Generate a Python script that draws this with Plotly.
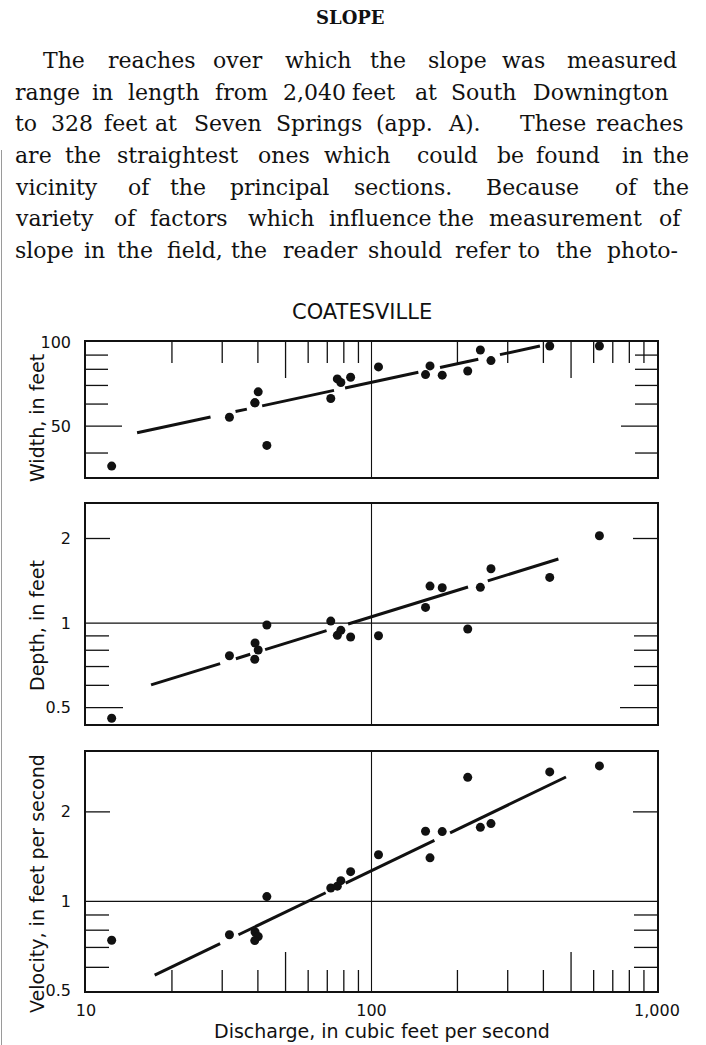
import numpy as np
import plotly.graph_objects as go

# ---------------- data ----------------
discharge = [12.3, 31.8, 39.1, 40.1, 39.0, 43.0, 72.0, 75.9, 78.1, 84.5,
             105.8, 154.6, 160.3, 176.9, 217.3, 240.6, 262.1, 421.0, 628.5]
width_ft = [35.9, 53.8, 60.6, 66.4, 60.6, 42.6, 62.8, 73.9, 71.7, 74.9,
            81.6, 76.6, 82.3, 76.2, 78.9, 93.9, 86.0, 97.0, 97.0]
depth_ft = [0.458, 0.765, 0.849, 0.802, 0.743, 0.984, 1.016, 0.904, 0.942, 0.892,
            0.901, 1.137, 1.354, 1.335, 0.952, 1.340, 1.561, 1.454, 2.045]
velocity_fps = [0.740, 0.772, 0.789, 0.762, 0.738, 1.038, 1.109, 1.125, 1.174, 1.259,
                1.435, 1.722, 1.401, 1.717, 2.614, 1.774, 1.827, 2.726, 2.855]

# fitted lines: end points (discharge, value) and the discharge intervals where the drawn line is interrupted
width_fit_q = [15.1, 389.0]
width_fit_v = [47.3, 97.0]
width_fit_gaps = [(27.3, 33.4), (36.6, 41.4), (73.9, 80.8), (145.9, 173.8), (236.6, 281.8)]
depth_fit_q = [16.9, 451.5]
depth_fit_v = [0.602, 1.690]
depth_fit_gaps = [(29.5, 33.5), (37.6, 42.4), (69.6, 82.8), (217.8, 255.4)]
vel_fit_q = [17.4, 480.0]
vel_fit_v = [0.565, 2.62]
vel_fit_gaps = [(29.5, 34.2), (69.1, 81.2), (166.1, 188.5)]

# tick labels
x_tickvals = [10, 100, 1000]
x_ticktext = ["10", "100", "1,000"]
w_tickvals = [50, 100]
w_ticktext = ["50", "100"]
d_tickvals = [0.5, 1, 2]
d_ticktext = ["0.5", "1", "2"]
v_tickvals = [0.5, 1, 2]
v_ticktext = ["0.5", "1", "2"]

title_text = "COATESVILLE"
heading_text = "SLOPE"
paragraph_lines = [
    "The reaches over which the slope was measured",
    "range in length from 2,040 feet at South Downington",
    "to 328 feet at Seven Springs (app. A).  These reaches",
    "are the straightest ones which could be found in the",
    "vicinity of the principal sections.  Because of the",
    "variety of factors which influence the measurement of",
    "slope in the field, the reader should refer to the photo-",
]

# ---------------- layout (pixel geometry of the page) ----------------
W, H = 706, 1045
PX_L, PX_R = 86, 657
panels = {  # top, bottom in px
    1: (342, 477),
    2: (504, 724),
    3: (752, 991),
}
# word start positions (px) for the justified paragraph
word_x = [
    [40.8, 105.7, 211, 282.7, 367.8, 426, 500, 565],
    [13, 90, 125.9, 213.3, 280.5, 349.9, 412.6, 448.5, 531.3],
    [13, 48.8, 102.2, 152.8, 192.2, 273.7, 374.5, 446.2, 517.9, 594],
    [13, 63.2, 114.7, 255.8, 321.7, 414.9, 494.6, 533.6, 620, 651.4],
    [13, 125.9, 167.6, 228, 352.1, 484.3, 612.9, 651.4],
    [13, 111.6, 148.3, 246, 326.6, 436, 487, 656.8],
    [13, 82.4, 114.7, 164.9, 229, 280.5, 365.6, 453, 515.7, 553.7, 605.3],
]
LINE0_Y, LINE_DY = 61, 31.5

SANS = "DejaVu Sans"
SERIF = "DejaVu Serif"
INK = "#111111"


def px_x(x):
    return x / W


def px_y(y):
    return 1 - y / H


def broken_line(q, v, gaps):
    lq0, lq1 = np.log10(q)
    lv0, lv1 = np.log10(v)

    def val(qq):
        t = (np.log10(qq) - lq0) / (lq1 - lq0)
        return float(10 ** (lv0 + t * (lv1 - lv0)))

    pts = [q[0]] + [g for pair in gaps for g in pair] + [q[1]]
    xs, ys = [], []
    for a, b in zip(pts[0::2], pts[1::2]):
        xs += [a, b, None]
        ys += [val(a), val(b), None]
    return xs, ys


fig = go.Figure()

series = [
    (1, width_ft, width_fit_q, width_fit_v, width_fit_gaps),
    (2, depth_ft, depth_fit_q, depth_fit_v, depth_fit_gaps),
    (3, velocity_fps, vel_fit_q, vel_fit_v, vel_fit_gaps),
]
for i, vals, fq, fv, gaps in series:
    xa = "x" if i == 1 else f"x{i}"
    ya = "y" if i == 1 else f"y{i}"
    lx, ly = broken_line(fq, fv, gaps)
    fig.add_trace(go.Scatter(x=lx, y=ly, mode="lines", xaxis=xa, yaxis=ya,
                             line=dict(color=INK, width=3), hoverinfo="skip"))
    fig.add_trace(go.Scatter(x=discharge, y=vals, mode="markers", xaxis=xa, yaxis=ya,
                             marker=dict(color=INK, size=9)))

ranges_y = {
    1: [np.log10(32.8), np.log10(100.3)],
    2: [np.log10(0.437), np.log10(2.654)],
    3: [np.log10(0.4995), np.log10(3.18)],
}
ticks_y = {1: (w_tickvals, w_ticktext), 2: (d_tickvals, d_ticktext), 3: (v_tickvals, v_ticktext)}

axis_common = dict(type="log", showline=True, linecolor=INK, linewidth=1.6, mirror=True,
                   showgrid=False, zeroline=False, ticks="", automargin=False)
layout = dict(width=W, height=H, margin=dict(l=0, r=0, t=0, b=0, pad=0, autoexpand=False),
              paper_bgcolor="white", plot_bgcolor="white", showlegend=False)
for i, (top, bot) in panels.items():
    xk = "xaxis" if i == 1 else f"xaxis{i}"
    yk = "yaxis" if i == 1 else f"yaxis{i}"
    ya = "y" if i == 1 else f"y{i}"
    xa = "x" if i == 1 else f"x{i}"
    xdict = dict(axis_common, domain=[px_x(PX_L), px_x(PX_R)], range=[1, 3], anchor=ya)
    if i == 3:
        xdict.update(tickvals=x_tickvals, ticktext=x_ticktext, showticklabels=True,
                     tickfont=dict(family=SANS, size=16, color=INK), ticklabelstandoff=4)
    else:
        xdict.update(showticklabels=False)
    tv, tt = ticks_y[i]
    ydict = dict(axis_common, domain=[px_y(bot), px_y(top)], range=ranges_y[i], anchor=xa,
                 tickvals=tv, ticktext=tt, tickfont=dict(family=SANS, size=16, color=INK),
                 ticklabelstandoff=10)
    layout[xk] = xdict
    layout[yk] = ydict
fig.update_layout(**layout)

# ---- tick marks drawn inside the frames ----
shapes = []
tick_line = dict(color=INK, width=1.3)


def ytick(i, val, length):
    xa = "x" if i == 1 else f"x{i}"
    ya = "y" if i == 1 else f"y{i}"
    f = length / (PX_R - PX_L)
    shapes.append(dict(type="line", xref=f"{xa} domain", yref=ya, x0=0, x1=f, y0=val, y1=val, line=tick_line))
    shapes.append(dict(type="line", xref=f"{xa} domain", yref=ya, x0=1 - f, x1=1, y0=val, y1=val, line=tick_line))


def xtick(i, val, length, side):
    top, bot = panels[i]
    xa = "x" if i == 1 else f"x{i}"
    ya = "y" if i == 1 else f"y{i}"
    f = length / (bot - top)
    y0, y1 = (1, 1 - f) if side == "top" else (0, f)
    shapes.append(dict(type="line", xref=xa, yref=f"{ya} domain", x0=val, x1=val, y0=y0, y1=y1, line=tick_line))


for v in [40, 60, 70, 80, 90]:
    ytick(1, v, 22)
ytick(1, 50, 36)
for v in [0.6, 0.7, 0.8, 0.9]:
    ytick(2, v, 23)
    ytick(3, v, 23)
ytick(2, 2, 24)
ytick(2, 0.5, 37)
ytick(3, 2, 24)
for dec in [10, 100]:
    for m in range(2, 10):
        xtick(1, dec * m, 36 if m == 5 else 21, "top")
        xtick(3, dec * m, 39 if m == 5 else 21, "bottom")

# grid lines at 100 cfs and at 1
for i in (1, 2, 3):
    xa = "x" if i == 1 else f"x{i}"
    ya = "y" if i == 1 else f"y{i}"
    shapes.append(dict(type="line", xref=xa, yref=f"{ya} domain", x0=100, x1=100, y0=0, y1=1,
                       line=dict(color=INK, width=1.1)))
for i in (2, 3):
    shapes.append(dict(type="line", xref=f"x{i} domain", yref=f"y{i}", x0=0, x1=1, y0=1, y1=1,
                       line=dict(color=INK, width=1.3)))
# page edge of the scan
shapes.append(dict(type="line", xref="paper", yref="paper", x0=px_x(1.5), x1=px_x(1.5),
                   y0=0, y1=px_y(150), line=dict(color="#9a9a9a", width=1)))
fig.update_layout(shapes=shapes)

# ---- text ----
ann = []
ann.append(dict(text=f"<b>{heading_text}</b>", x=px_x(350), y=px_y(17), xref="paper", yref="paper",
                showarrow=False, xanchor="center", yanchor="middle",
                font=dict(family=SERIF, size=18, color=INK)))
for li, (line, xs) in enumerate(zip(paragraph_lines, word_x)):
    words = line.split()
    yc = LINE0_Y + li * LINE_DY
    for w, x in zip(words, xs):
        ann.append(dict(text=w, x=px_x(x), y=px_y(yc), xref="paper", yref="paper", showarrow=False,
                        xanchor="left", yanchor="middle", font=dict(family=SERIF, size=22, color=INK)))
ann.append(dict(text=title_text, x=px_x(362), y=px_y(312), xref="paper", yref="paper", showarrow=False,
                xanchor="center", yanchor="middle", font=dict(family=SANS, size=21, color=INK)))
for label, yc, sz in [("Width, in feet", 418, 19), ("Depth, in feet", 626, 19),
                      ("Velocity, in feet per second", 884, 19)]:
    ann.append(dict(text=label, x=px_x(37), y=px_y(yc), xref="paper", yref="paper", showarrow=False,
                    textangle=-90, xanchor="center", yanchor="middle",
                    font=dict(family=SANS, size=sz, color=INK)))
ann.append(dict(text="Discharge, in cubic feet per second", x=px_x(382), y=px_y(1031), xref="paper",
                yref="paper", showarrow=False, xanchor="center", yanchor="middle",
                font=dict(family=SANS, size=19, color=INK)))
fig.update_layout(annotations=ann)

# the page has no body margin, so the figure sits at the window's top-left corner
fig.write_html("out.html", config={"displayModeBar": False},
               post_script="document.body.style.margin='0';")
